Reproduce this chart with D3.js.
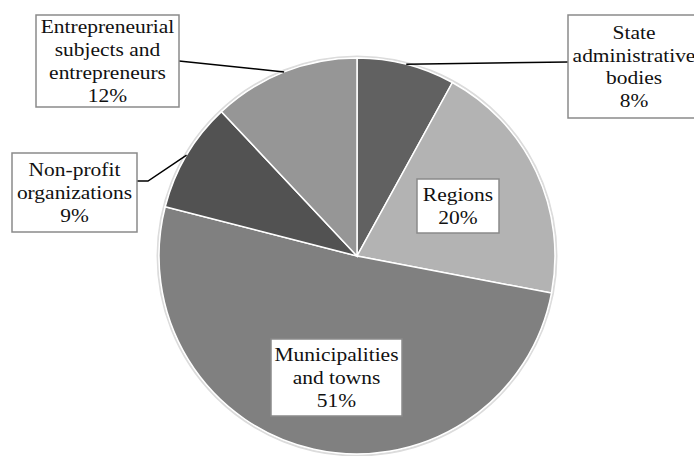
<!DOCTYPE html>
<html>
<head>
<meta charset="utf-8">
<script src="https://cdn.jsdelivr.net/npm/d3@7"></script>
<style>
  html, body { margin: 0; padding: 0; background: #fff; }
</style>
</head>
<body>
<div id="chart"></div>
<script>
var width = 694,
    height = 456;

// data, clockwise from 12 o'clock
var categories = ["State administrative bodies", "Regions", "Municipalities and towns",
                  "Non-profit organizations", "Entrepreneurial subjects and entrepreneurs"];
var shares = [8, 20, 51, 9, 12];
var labelLines = [
    ["State", "administrative", "bodies"],
    ["Regions"],
    ["Municipalities", "and towns"],
    ["Non-profit", "organizations"],
    ["Entrepreneurial", "subjects and", "entrepreneurs"]
];
var colors = ["#616161", "#b3b3b3", "#808080", "#525252", "#969696"];

// label boxes (x, y, w, h) and leader elbow
var boxes = [
    {x: 568, y: 15, w: 140, h: 103, elbow: null, side: "left"},
    {x: 417, y: 179, w: 82, h: 54},
    {x: 271, y: 339, w: 131, h: 77},
    {x: 12, y: 153, w: 125, h: 79, elbow: [148, 181], side: "right"},
    {x: 36, y: 15, w: 143, h: 92, elbow: null, side: "right"}
];
var leaderY = [62, null, null, 181, 61];

var cx = 357, cy = 256, radius = 198;
var lineH = 23;

var svg = d3.select("#chart")
    .append("svg")
    .attr("width", width)
    .attr("height", height)

var data = categories.map(function(c, i){
    return {name: c, value: shares[i], lines: labelLines[i], color: colors[i], box: boxes[i], ly: leaderY[i]}
})

var pie = d3.pie().sort(null).value(function(d){ return d.value })
var arcs = pie(data)
var arc = d3.arc().innerRadius(0).outerRadius(radius)
var edgeArc = d3.arc().innerRadius(radius).outerRadius(radius)

var g = svg.append("g").attr("transform", "translate(" + cx + "," + cy + ")")

// faint halo round the pie
g.append("circle")
    .attr("r", radius + 1.5)
    .attr("fill", "none")
    .attr("stroke", "#dcdcdc")
    .attr("stroke-width", 2)

g.selectAll(".slice")
    .data(arcs)
    .enter().append("path")
    .attr("class", "slice")
    .attr("d", arc)
    .attr("fill", function(d){ return d.data.color })
    .attr("stroke", "#fff")
    .attr("stroke-width", 1.5)

// leader lines
arcs.forEach(function(a){
    var b = a.data.box
    if (a.data.ly === null) return
    var p = edgeArc.centroid(a)
    var pts = [[p[0] + cx, p[1] + cy]]
    if (b.elbow) pts.push(b.elbow)
    var bx = b.side === "left" ? b.x : b.x + b.w
    pts.push([bx, a.data.ly])
    svg.append("path")
        .attr("d", d3.line()(pts))
        .attr("fill", "none")
        .attr("stroke", "#000")
        .attr("stroke-width", 1.5)
})

// label boxes
var labels = svg.selectAll(".label")
    .data(data)
    .enter().append("g")
    .attr("class", "label")

labels.append("rect")
    .attr("x", function(d){ return d.box.x })
    .attr("y", function(d){ return d.box.y })
    .attr("width", function(d){ return d.box.w })
    .attr("height", function(d){ return d.box.h })
    .attr("fill", "#fff")
    .attr("stroke", "#8a8a8a")
    .attr("stroke-width", 1.5)

labels.each(function(d){
    var all = d.lines.concat([d.value + "%"])
    var mx = d.box.x + d.box.w / 2
    if (d.box.side === "left") mx = 634
    var my = d.box.y + d.box.h / 2
    var t = d3.select(this).append("text")
        .attr("transform", "translate(" + mx + "," + my + ") scale(1.13,1)")
        .attr("text-anchor", "middle")
        .style("font-family", "'Liberation Serif'")
        .attr("font-size", 19)
        .attr("fill", "#111")
    all.forEach(function(s, i){
        t.append("tspan")
            .attr("x", 0)
            .attr("y", (i - (all.length - 1) / 2) * lineH + 6.5)
            .text(s)
    })
})
</script>
</body>
</html>
